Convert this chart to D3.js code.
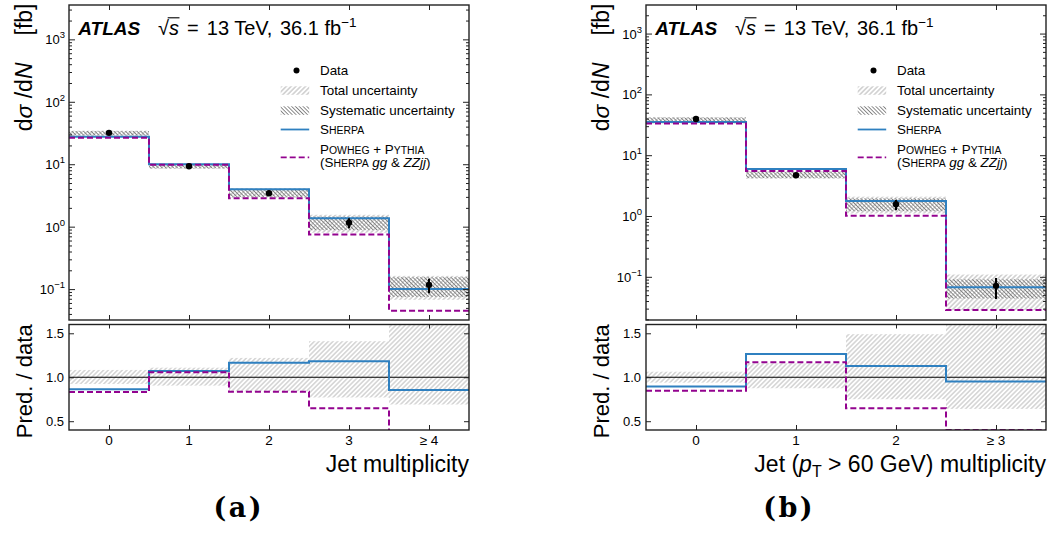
<!DOCTYPE html>
<html>
<head>
<meta charset="utf-8">
<script src="https://cdn.jsdelivr.net/npm/d3@7"></script>
<style>
  body { margin: 0; background: #fff; }
  svg { display: block; }
  text { font-family: "Liberation Sans", Arial, Helvetica, sans-serif; fill: #000; }
  text.caption { font-family: "DejaVu Serif", "Liberation Serif", serif; font-weight: bold; letter-spacing: 2.5px; }
</style>
</head>
<body>
<svg id="fig" width="1055" height="534"></svg>
<script>
// ---- (a) inclusive jet multiplicity ----
const binsA    = ["0", "1", "2", "3", "\u2265 4"];
const dataA    = [31.8, 9.3, 3.42, 1.16, 0.117];
const errLoA   = [30.9, 9.05, 3.22, 0.94, 0.086];
const errHiA   = [32.7, 9.55, 3.64, 1.36, 0.146];
const sherpaA  = [27.5, 9.96, 3.98, 1.37, 0.100];
const powhegA  = [26.5, 9.83, 2.86, 0.75, 0.045];
const totLoA   = [28.0, 8.4, 2.9, 0.80, 0.0674];
const totHiA   = [34.5, 10.3, 4.15, 1.55, 0.163];
const sysLoA   = [29.0, 8.6, 3.0, 0.88, 0.075];
const sysHiA   = [34.0, 10.1, 4.0, 1.45, 0.155];
const ratioLoA = [0.924, 0.905, 0.84, 0.77, 0.69];
const ratioHiA = [1.083, 1.109, 1.22, 1.41, 1.90];

// ---- (b) jets with pT > 60 GeV ----
const binsB    = ["0", "1", "2", "\u2265 3"];
const dataB    = [39.4, 4.68, 1.56, 0.071];
const errLoB   = [38.5, 4.25, 1.26, 0.043];
const errHiB   = [40.3, 5.1, 1.83, 0.096];
const sherpaB  = [35.2, 5.92, 1.76, 0.0675];
const powhegB  = [33.3, 5.48, 1.01, 0.0285];
const totLoB   = [33.0, 4.1, 1.1, 0.0283];
const totHiB   = [42.5, 5.45, 2.08, 0.109];
const sysLoB   = [35.0, 4.2, 1.2, 0.044];
const sysHiB   = [41.5, 5.3, 1.95, 0.091];
const ratioLoB = [0.939, 0.875, 0.75, 0.64];
const ratioHiB = [1.063, 1.158, 1.49, 1.90];

// shared axis settings
const logMajor    = [0.1, 1, 10, 100, 1000];
const logExponent = ["\u22121", "0", "1", "2", "3"];
const ratioTicks  = [0.5, 1.0, 1.5];
const ratioLabels = ["0.5", "1.0", "1.5"];
const ratioDomain = [0.4, 1.6];

const MAIN_TOP = 5, MAIN_BOT = 320, RAT_TOP = 324.5, RAT_BOT = 430;
const C_SHERPA = "#2f80c0", C_POWHEG = "#93038f", C_FRAME = "#222";

const svg = d3.select("#fig");
const defs = svg.append("defs");

function hatch(id, angle, gap, color, w) {
  const p = defs.append("pattern").attr("id", id)
    .attr("patternUnits", "userSpaceOnUse")
    .attr("width", gap).attr("height", gap)
    .attr("patternTransform", `rotate(${angle})`);
  p.append("line").attr("x1", gap / 2).attr("x2", gap / 2)
    .attr("y1", -1).attr("y2", gap + 1)
    .attr("stroke", color).attr("stroke-width", w);
}
hatch("hTot", 45, 3.4, "#b4b4b4", 1.0);
hatch("hSys", -45, 2.7, "#7c7c7c", 0.9);
hatch("hRat", 45, 3.3, "#bdbdbd", 1.0);

// Small-caps helper: first letter full size, rest reduced capitals
function smallCaps(t, word, fs) {
  t.append("tspan").text(word[0]);
  t.append("tspan").style("font-size", (fs * 0.78) + "px").text(word.slice(1).toUpperCase());
}

function tidy(g) {
  g.select(".domain").remove();
  g.selectAll(".tick line").attr("stroke", C_FRAME).attr("stroke-width", 1);
  g.selectAll(".tick text").remove();
}

function drawPanel(p) {
  const n = p.bins.length;
  const g = svg.append("g");
  const x = d3.scaleLinear().domain([-0.5, n - 0.5]).range([p.x0, p.x1]);
  const y = d3.scaleLog().domain(p.yDomain).range([MAIN_BOT, MAIN_TOP]);
  const yr = d3.scaleLinear().domain(ratioDomain).range([RAT_BOT, RAT_TOP]);
  const idx = d3.range(n);

  defs.append("clipPath").attr("id", p.id + "cm").append("rect")
    .attr("x", p.x0).attr("y", MAIN_TOP).attr("width", p.x1 - p.x0).attr("height", MAIN_BOT - MAIN_TOP);
  defs.append("clipPath").attr("id", p.id + "cr").append("rect")
    .attr("x", p.x0).attr("y", RAT_TOP).attr("width", p.x1 - p.x0).attr("height", RAT_BOT - RAT_TOP);

  const steps = vals => vals.map((v, i) => [i - 0.5, v]).concat([[n - 0.5, vals[n - 1]]]);

  // ---------- main panel ----------
  const gm = g.append("g").attr("clip-path", `url(#${p.id}cm)`);
  gm.selectAll(".tot").data(idx).join("rect")
    .attr("x", i => x(i - 0.5)).attr("width", i => x(i + 0.5) - x(i - 0.5))
    .attr("y", i => y(p.totHi[i])).attr("height", i => y(p.totLo[i]) - y(p.totHi[i]))
    .attr("fill", "url(#hTot)");
  gm.selectAll(".sys").data(idx).join("rect")
    .attr("x", i => x(i - 0.5)).attr("width", i => x(i + 0.5) - x(i - 0.5))
    .attr("y", i => y(p.sysHi[i])).attr("height", i => y(p.sysLo[i]) - y(p.sysHi[i]))
    .attr("fill", "url(#hSys)");

  const lineM = d3.line().x(d => x(d[0])).y(d => y(d[1])).curve(d3.curveStepAfter);
  gm.append("path").attr("d", lineM(steps(p.sherpa)))
    .attr("fill", "none").attr("stroke", C_SHERPA).attr("stroke-width", 2);
  gm.append("path").attr("d", lineM(steps(p.powheg)))
    .attr("fill", "none").attr("stroke", C_POWHEG).attr("stroke-width", 2)
    .attr("stroke-dasharray", "6,3");

  gm.selectAll(".err").data(idx).join("line")
    .attr("x1", i => x(i)).attr("x2", i => x(i))
    .attr("y1", i => y(p.errHi[i])).attr("y2", i => y(p.errLo[i]))
    .attr("stroke", "#000").attr("stroke-width", 2);
  gm.selectAll(".pt").data(idx).join("circle")
    .attr("cx", i => x(i)).attr("cy", i => y(p.data[i])).attr("r", 3.2).attr("fill", "#000");

  // log axis ticks, all inward
  const minor = [];
  for (let e = -3; e <= 3; e++) for (let m = 2; m <= 9; m++) {
    const v = m * Math.pow(10, e);
    if (v >= p.yDomain[0] && v <= p.yDomain[1]) minor.push(v);
  }
  g.append("g").attr("transform", `translate(${p.x0},0)`)
    .call(d3.axisLeft(y).tickValues(logMajor).tickSize(-6).tickFormat("")).call(tidy);
  g.append("g").attr("transform", `translate(${p.x0},0)`)
    .call(d3.axisLeft(y).tickValues(minor).tickSize(-3).tickFormat("")).call(tidy);
  g.append("g").attr("transform", `translate(${p.x1},0)`)
    .call(d3.axisRight(y).tickValues(logMajor).tickSize(-6).tickFormat("")).call(tidy);
  g.append("g").attr("transform", `translate(${p.x1},0)`)
    .call(d3.axisRight(y).tickValues(minor).tickSize(-3).tickFormat("")).call(tidy);
  g.append("g").attr("transform", `translate(0,${MAIN_TOP})`)
    .call(d3.axisTop(x).tickValues(idx).tickSize(-5).tickFormat("")).call(tidy);
  g.append("g").attr("transform", `translate(0,${MAIN_BOT})`)
    .call(d3.axisBottom(x).tickValues(idx).tickSize(-5).tickFormat("")).call(tidy);

  logMajor.forEach((v, k) => {
    const t = g.append("text").attr("x", p.x0 - 4).attr("y", y(v) + 5)
      .attr("text-anchor", "end").style("font-size", "13px").text("10");
    t.append("tspan").attr("dy", -6).style("font-size", "9.5px").text(logExponent[k]);
  });

  g.append("rect").attr("x", p.x0).attr("y", MAIN_TOP)
    .attr("width", p.x1 - p.x0).attr("height", MAIN_BOT - MAIN_TOP)
    .attr("fill", "none").attr("stroke", C_FRAME).attr("stroke-width", 1.4);

  // ---------- ratio panel ----------
  const gr = g.append("g").attr("clip-path", `url(#${p.id}cr)`);
  gr.selectAll(".rb").data(idx).join("rect")
    .attr("x", i => x(i - 0.5)).attr("width", i => x(i + 0.5) - x(i - 0.5))
    .attr("y", i => yr(p.ratioHi[i])).attr("height", i => yr(p.ratioLo[i]) - yr(p.ratioHi[i]))
    .attr("fill", "url(#hRat)");
  gr.append("line").attr("x1", p.x0).attr("x2", p.x1)
    .attr("y1", yr(1)).attr("y2", yr(1)).attr("stroke", "#000").attr("stroke-width", 1.1);
  const lineR = d3.line().x(d => x(d[0])).y(d => yr(d[1])).curve(d3.curveStepAfter);
  const rS = p.sherpa.map((v, i) => v / p.data[i]);
  const rP = p.powheg.map((v, i) => v / p.data[i]);
  gr.append("path").attr("d", lineR(steps(rS)))
    .attr("fill", "none").attr("stroke", C_SHERPA).attr("stroke-width", 2);
  gr.append("path").attr("d", lineR(steps(rP)))
    .attr("fill", "none").attr("stroke", C_POWHEG).attr("stroke-width", 2)
    .attr("stroke-dasharray", "6,3");

  g.append("g").attr("transform", `translate(${p.x0},0)`)
    .call(d3.axisLeft(yr).tickValues(ratioTicks).tickSize(-5).tickFormat("")).call(tidy);
  g.append("g").attr("transform", `translate(${p.x1},0)`)
    .call(d3.axisRight(yr).tickValues(ratioTicks).tickSize(-5).tickFormat("")).call(tidy);
  g.append("g").attr("transform", `translate(0,${RAT_TOP})`)
    .call(d3.axisTop(x).tickValues(idx).tickSize(-4).tickFormat("")).call(tidy);
  g.append("g").attr("transform", `translate(0,${RAT_BOT})`)
    .call(d3.axisBottom(x).tickValues(idx).tickSize(-5).tickFormat("")).call(tidy);

  ratioTicks.forEach((v, k) => {
    g.append("text").attr("x", p.x0 - 5).attr("y", yr(v) + 4.7)
      .attr("text-anchor", "end").style("font-size", "13px").text(ratioLabels[k]);
  });
  p.bins.forEach((b, i) => {
    g.append("text").attr("x", x(i)).attr("y", 445)
      .attr("text-anchor", "middle").style("font-size", "13.5px").text(b);
  });

  g.append("rect").attr("x", p.x0).attr("y", RAT_TOP)
    .attr("width", p.x1 - p.x0).attr("height", RAT_BOT - RAT_TOP)
    .attr("fill", "none").attr("stroke", C_FRAME).attr("stroke-width", 1.4);

  // ---------- labels ----------
  const yl = g.append("text").style("font-size", "23px").attr("text-anchor", "end")
    .attr("transform", `translate(${p.x0 - 37.5},3.5) rotate(-90)`);
  yl.append("tspan").text("d");
  yl.append("tspan").style("font-style", "italic").text("\u03c3");
  yl.append("tspan").text(" /d");
  yl.append("tspan").style("font-style", "italic").text("N");
  yl.append("tspan").attr("dx", 27).text("[fb]");

  g.append("text").style("font-size", "22px").attr("text-anchor", "middle")
    .attr("transform", `translate(${p.x0 - 37.5},${(RAT_TOP + RAT_BOT) / 2 + 4}) rotate(-90)`)
    .text("Pred. / data");

  const xl = g.append("text").attr("x", p.x1).attr("y", 472)
    .style("font-size", "23px").attr("text-anchor", "end");
  p.xLabel(xl);

  svg.append("text").attr("class", "caption").attr("x", p.capX + 1.2).attr("y", 517)
    .attr("text-anchor", "middle").style("font-size", "27px").text(p.caption);

  // ATLAS label
  g.append("text").attr("x", p.x0 + 9.3).attr("y", 35).style("font-size", "19px")
    .style("font-weight", "bold").style("font-style", "italic").text("ATLAS");
  const en = g.append("text").attr("x", p.x0 + 89).attr("y", 35).style("font-size", "20px");
  en.append("tspan").text("\u221a");
  en.append("tspan").style("font-style", "italic").text("s");
  en.append("tspan").attr("dx", 2.5).text(" = ");
  en.append("tspan").attr("dx", 2.5).text("13 TeV,");
  en.append("tspan").attr("dx", 2).text(" 36.1 fb");
  en.append("tspan").attr("dy", -8).style("font-size", "13.5px").text("\u22121");
  const node = en.node();
  const r0 = node.getExtentOfChar(0), r1 = node.getExtentOfChar(1);
  g.append("line").attr("x1", r0.x + r0.width - 1.3).attr("x2", r1.x + r1.width + 0.5)
    .attr("y1", 35 - 17.2).attr("y2", 35 - 17.2).attr("stroke", "#000").attr("stroke-width", 1.1);

  // legend
  const lx = p.x0 + 211.7, lw = 28.5, tx = p.x0 + 251, fs = 13.4;
  const fpx = fs + "px";
  g.append("circle").attr("cx", p.x0 + 227.5).attr("cy", 70.5).attr("r", 3).attr("fill", "#000");
  g.append("text").attr("x", tx).attr("y", 75).style("font-size", fpx).text("Data");
  g.append("rect").attr("x", lx).attr("y", 86.3).attr("width", lw).attr("height", 8.5).attr("fill", "url(#hTot)");
  g.append("text").attr("x", tx).attr("y", 95).style("font-size", fpx).text("Total uncertainty");
  g.append("rect").attr("x", lx).attr("y", 106.3).attr("width", lw).attr("height", 8.5).attr("fill", "url(#hSys)");
  g.append("text").attr("x", tx).attr("y", 115).style("font-size", fpx).text("Systematic uncertainty");
  g.append("line").attr("x1", lx).attr("x2", lx + lw).attr("y1", 129.5).attr("y2", 129.5)
    .attr("stroke", C_SHERPA).attr("stroke-width", 1.8);
  const ts = g.append("text").attr("x", tx).attr("y", 134).style("font-size", fpx);
  smallCaps(ts, "Sherpa", fs);
  g.append("line").attr("x1", lx).attr("x2", lx + lw).attr("y1", 157.3).attr("y2", 157.3)
    .attr("stroke", C_POWHEG).attr("stroke-width", 1.8).attr("stroke-dasharray", "6,3");
  const tp = g.append("text").attr("x", tx).attr("y", 154).style("font-size", fpx);
  smallCaps(tp, "Powheg", fs);
  tp.append("tspan").text(" + ");
  smallCaps(tp, "Pythia", fs);
  const tq = g.append("text").attr("x", tx).attr("y", 167).style("font-size", fpx);
  tq.append("tspan").text("(");
  smallCaps(tq, "Sherpa", fs);
  tq.append("tspan").text(" ");
  tq.append("tspan").style("font-style", "italic").text("gg");
  tq.append("tspan").text(" & ");
  tq.append("tspan").style("font-style", "italic").text("ZZjj");
  tq.append("tspan").text(")");
}

drawPanel({
  id: "a", x0: 69, x1: 469, yDomain: [0.032, 3550], bins: binsA,
  data: dataA, errLo: errLoA, errHi: errHiA, sherpa: sherpaA, powheg: powhegA,
  totLo: totLoA, totHi: totHiA, sysLo: sysLoA, sysHi: sysHiA,
  ratioLo: ratioLoA, ratioHi: ratioHiA, caption: "(a)", capX: 237.5,
  xLabel: t => t.text("Jet multiplicity")
});

drawPanel({
  id: "b", x0: 646, x1: 1046, yDomain: [0.0195, 2950], bins: binsB,
  data: dataB, errLo: errLoB, errHi: errHiB, sherpa: sherpaB, powheg: powhegB,
  totLo: totLoB, totHi: totHiB, sysLo: sysLoB, sysHi: sysHiB,
  ratioLo: ratioLoB, ratioHi: ratioHiB, caption: "(b)", capX: 788,
  xLabel: t => {
    t.append("tspan").text("Jet (");
    t.append("tspan").style("font-style", "italic").text("p");
    t.append("tspan").attr("dy", 5).style("font-size", "16px").text("T");
    t.append("tspan").attr("dy", -5).text(" > 60 GeV) multiplicity");
  }
});
</script>
</body>
</html>
